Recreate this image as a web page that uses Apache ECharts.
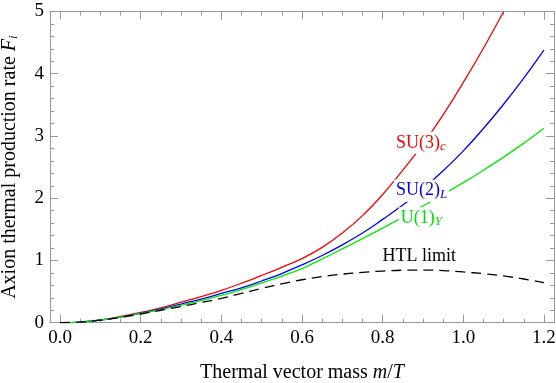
<!DOCTYPE html>
<html>
<head>
<meta charset="utf-8">
<script src="https://cdn.jsdelivr.net/npm/echarts@6/dist/echarts.min.js"></script>
<style>
html, body { margin: 0; padding: 0; background: #fff; }
#chart { width: 556px; height: 383px; }
</style>
</head>
<body>
<div id="chart"></div>
<script>
// m/T sample points
var massValues = [0, 0.05, 0.1, 0.15, 0.2, 0.25, 0.3, 0.35, 0.4, 0.45, 0.5, 0.55, 0.6,
                  0.65, 0.7, 0.75, 0.8, 0.85, 0.9, 0.95, 1.0, 1.05, 1.1, 1.15, 1.2];
// F_i (red curve leaves the frame at 1.1)
var su3Values = [0, 0.01, 0.045, 0.1, 0.165, 0.24, 0.33, 0.42, 0.52, 0.635, 0.76, 0.89, 1.03,
                 1.21, 1.44, 1.72, 2.06, 2.45, 2.87, 3.34, 3.86, 4.41, 5.0];
var su2Values = [0, 0.01, 0.04, 0.09, 0.155, 0.22, 0.3, 0.38, 0.47, 0.56, 0.67, 0.79, 0.93,
                 1.08, 1.25, 1.44, 1.66, 1.89, 2.15, 2.44, 2.76, 3.12, 3.51, 3.93, 4.38];
var u1Values  = [0, 0.01, 0.04, 0.09, 0.15, 0.21, 0.28, 0.355, 0.44, 0.53, 0.64, 0.75, 0.87,
                 1.025, 1.185, 1.35, 1.52, 1.695, 1.875, 2.06, 2.25, 2.45, 2.66, 2.885, 3.125];
var htlValues = [0, 0.01, 0.04, 0.085, 0.14, 0.2, 0.26, 0.325, 0.39, 0.47, 0.55, 0.625, 0.69,
                 0.74, 0.78, 0.81, 0.83, 0.843, 0.845, 0.838, 0.815, 0.788, 0.752, 0.702, 0.645];

var xMajorTicks = [0, 0.2, 0.4, 0.6, 0.8, 1.0, 1.2];
var xMinorTicks = [0.05, 0.1, 0.15, 0.25, 0.3, 0.35, 0.45, 0.5, 0.55, 0.65, 0.7, 0.75,
                   0.85, 0.9, 0.95, 1.05, 1.1, 1.15];

var FONT = 'Liberation Serif';
var FRAME = '#999';

function pairs(vals) {
  return vals.map(function (v, i) { return [massValues[i], v]; });
}

function xAxis(pos, ticks, len, withLabels) {
  return {
    type: 'value', position: pos, min: -0.025, max: 1.225,
    axisLine: { show: true, onZero: false, lineStyle: { color: FRAME, width: 1 } },
    axisTick: { show: true, inside: true, length: len, customValues: ticks,
                lineStyle: { color: FRAME } },
    axisLabel: { show: withLabels, customValues: xMajorTicks, margin: 6,
                 formatter: function (v) { return v.toFixed(1); },
                 color: '#000', fontFamily: FONT, fontSize: 19 },
    splitLine: { show: false }
  };
}

function yAxis(pos, withLabels) {
  return {
    type: 'value', position: pos, min: 0, max: 5, interval: 1,
    axisLine: { show: true, onZero: false, lineStyle: { color: FRAME, width: 1 } },
    axisTick: { show: true, inside: true, length: 8, lineStyle: { color: FRAME } },
    minorTick: { show: true, splitNumber: 5, length: 4, lineStyle: { color: FRAME } },
    axisLabel: { show: withLabels, margin: 6, color: '#000', fontFamily: FONT, fontSize: 19 },
    splitLine: { show: false }
  };
}

var bottomAxis = xAxis('bottom', xMajorTicks, 8, true);
bottomAxis.name = 'Thermal vector mass {i|m}/{i|T}';
bottomAxis.nameLocation = 'middle';
bottomAxis.nameGap = 40;
bottomAxis.nameTextStyle = {
  color: '#000', fontFamily: FONT, fontSize: 20,
  rich: { i: { fontStyle: 'italic', fontFamily: FONT, fontSize: 20, color: '#000' } }
};

var leftAxis = yAxis('left', true);
leftAxis.name = 'Axion thermal production rate {i|F}{s|i}';
leftAxis.nameLocation = 'middle';
leftAxis.nameGap = 30;
leftAxis.nameTextStyle = {
  color: '#000', fontFamily: FONT, fontSize: 20,
  rich: {
    i: { fontStyle: 'italic', fontFamily: FONT, fontSize: 20, color: '#000' },
    s: { fontStyle: 'italic', fontFamily: FONT, fontSize: 13, color: '#000',
         verticalAlign: 'bottom', lineHeight: 10 }
  }
};

function line(vals, color, dashed) {
  return {
    type: 'line', data: pairs(vals), showSymbol: false, smooth: 0.4,
    xAxisIndex: 0, yAxisIndex: 0, clip: true,
    lineStyle: { color: color, width: 1.3, type: dashed ? [10, 6] : 'solid' },
    silent: true, animation: false
  };
}

var chart = echarts.init(document.getElementById('chart'), null, { renderer: 'canvas' });
chart.setOption({
  animation: false,
  backgroundColor: '#fff',
  grid: { left: 50, right: 2, top: 11.5, bottom: 60.3, outerBoundsMode: 'none' },
  xAxis: [
    bottomAxis,
    xAxis('bottom', xMinorTicks, 4, false),
    xAxis('top', xMajorTicks, 8, false),
    xAxis('top', xMinorTicks, 4, false)
  ],
  yAxis: [leftAxis, yAxis('right', false)],
  series: [
    line(su3Values, '#ff0000'),
    line(su2Values, '#0000ff'),
    line(u1Values, '#00ee00'),
    line(htlValues, '#000000', true)
  ]
});

// curve labels, anchored in data coordinates
function label(pos, text, color, sub) {
  var p = chart.convertToPixel({ gridIndex: 0 }, pos);
  return {
    type: 'text', x: p[0], y: p[1], z: 100,
    style: {
      text: sub ? '{a|' + text + '}{b|' + sub + '}' : '{a|' + text + '}',
      verticalAlign: 'middle', align: 'left',
      backgroundColor: '#fff', padding: [1, 2],
      rich: {
        a: { fontFamily: FONT, fontSize: 18, fill: color, lineHeight: 20 },
        b: { fontFamily: FONT, fontSize: 13, fontStyle: 'italic', fill: color,
             verticalAlign: 'bottom', lineHeight: 10 }
      }
    }
  };
}

chart.setOption({
  graphic: [
    label([0.828, 2.89], 'SU(3)', '#ff0000', 'c'),
    label([0.828, 2.12], 'SU(2)', '#0000ff', 'L'),
    label([0.84, 1.68], 'U(1)', '#00dd00', 'Y'),
    label([0.795, 1.07], 'HTL limit', '#000000')
  ]
});
</script>
</body>
</html>
